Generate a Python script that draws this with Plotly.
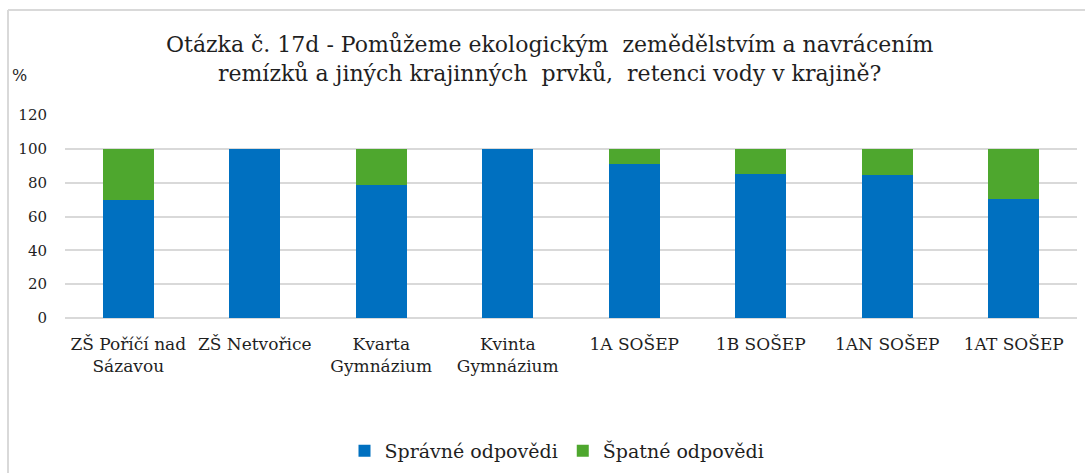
import plotly.graph_objects as go

# Survey results per school / class (percent of respondents)
categories = [
    "ZŠ Poříčí nad<br>Sázavou",
    "ZŠ Netvořice",
    "Kvarta<br>Gymnázium",
    "Kvinta<br>Gymnázium",
    "1A SOŠEP",
    "1B SOŠEP",
    "1AN SOŠEP",
    "1AT SOŠEP",
]
correct = [70.0, 100.0, 78.6, 100.0, 91.0, 85.3, 84.6, 70.2]
wrong = [30.0, 0.0, 21.4, 0.0, 9.0, 14.7, 15.4, 29.8]
y_ticks = [0, 20, 40, 60, 80, 100, 120]

FONT = "DejaVu Serif"
TEXT = "#1f1f1f"
GRID = "#d9d9d9"

# Plot-area geometry in pixels (used to place decorations outside it)
W, H = 1085, 473
L, R, T, B = 65, 8, 115, 155
PW, PH = W - L - R, H - T - B


def px_x(x):
    return (x - L) / PW


def px_y(y):
    return (H - B - y) / PH


fig = go.Figure()
fig.add_trace(go.Bar(
    x=categories, y=correct, name="Správné odpovědi",
    marker=dict(color="#0070C0", line=dict(width=0)),
))
fig.add_trace(go.Bar(
    x=categories, y=wrong, name="Špatné odpovědi",
    marker=dict(color="#4EA72E", line=dict(width=0)),
))

fig.update_layout(
    width=W, height=H,
    margin=dict(l=L, r=R, t=T, b=B, pad=0, autoexpand=False),
    barmode="stack",
    bargap=0.6,
    paper_bgcolor="white",
    plot_bgcolor="white",
    font=dict(family=FONT, color=TEXT),
    showlegend=True,
    legend=dict(
        orientation="h",
        x=px_x(557), xanchor="center",
        y=px_y(451), yanchor="middle",
        font=dict(size=19, family=FONT, color=TEXT),
        itemsizing="constant",
        traceorder="normal",
    ),
    xaxis=dict(
        showgrid=False,
        showline=False,
        ticks="",
        tickfont=dict(size=17, family=FONT, color=TEXT),
        ticklabelstandoff=14,
    ),
    yaxis=dict(
        range=[0, 120],
        tickvals=y_ticks,
        showgrid=True,
        gridcolor=GRID,
        gridwidth=1.5,
        zeroline=True,
        zerolinecolor=GRID,
        zerolinewidth=1.5,
        showline=False,
        ticks="",
        tickfont=dict(size=15, family=FONT, color=TEXT),
        ticklabelstandoff=17,
    ),
    annotations=[
        dict(
            text="Otázka č. 17d - Pomůžeme ekologickým  zemědělstvím a navrácením"
                 "<br>remízků a jiných krajinných  prvků,  retenci vody v krajině?",
            xref="paper", yref="paper",
            x=px_x(550), y=px_y(59),
            xanchor="center", yanchor="middle",
            showarrow=False,
            font=dict(size=22, family=FONT, color=TEXT),
        ),
        dict(
            text="%",
            xref="paper", yref="paper",
            x=px_x(19), y=px_y(75),
            xanchor="center", yanchor="middle",
            showarrow=False,
            font=dict(size=16, family=FONT, color=TEXT),
        ),
    ],
    shapes=[
        # chart frame: top and left edges
        dict(type="line", xref="paper", yref="paper",
             x0=px_x(8), x1=px_x(W), y0=px_y(10), y1=px_y(10),
             line=dict(color=GRID, width=2)),
        dict(type="line", xref="paper", yref="paper",
             x0=px_x(8), x1=px_x(8), y0=px_y(10), y1=px_y(H),
             line=dict(color=GRID, width=2)),
    ],
)

fig.write_html("out.html")
